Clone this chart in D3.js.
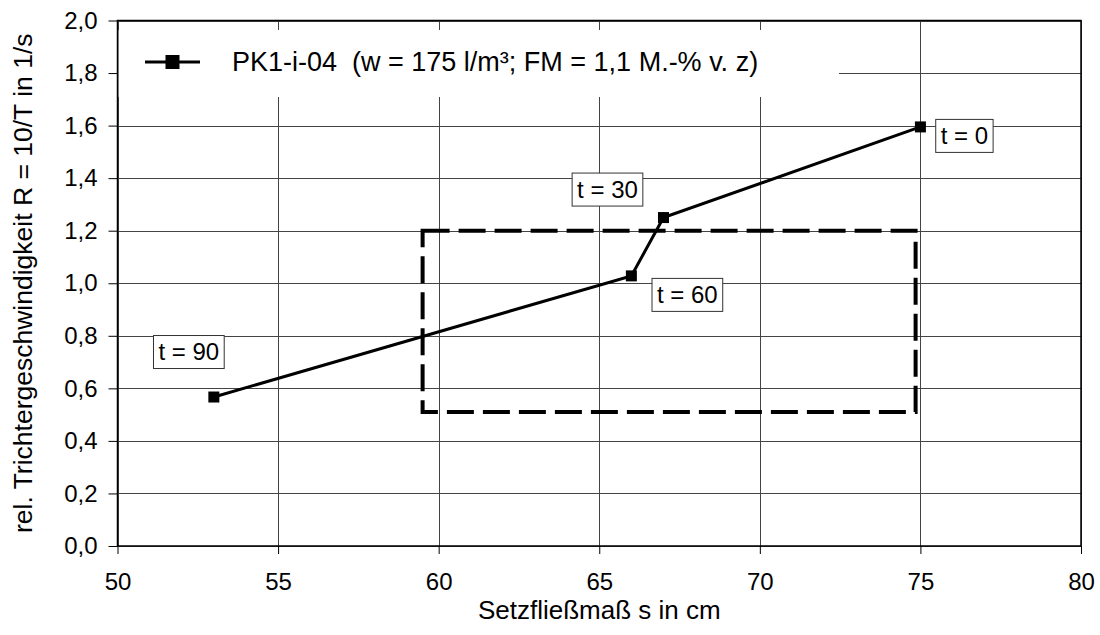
<!DOCTYPE html>
<html>
<head>
<meta charset="utf-8">
<script src="https://cdn.jsdelivr.net/npm/d3@7"></script>
<style>
  html, body { margin: 0; padding: 0; background: #fff; }
  svg { display: block; font-family: "Liberation Sans", Arial, sans-serif; }
</style>
</head>
<body>
<svg id="chart" width="1100" height="635"></svg>
<script>
// ---- data ----
const setzfliessmass = [75, 67, 66, 53];          // s in cm
const trichterR      = [1.595, 1.25, 1.028, 0.567]; // R = 10/T in 1/s
const timeLabels     = ["t = 0", "t = 30", "t = 60", "t = 90"];
const seriesName     = "PK1-i-04  (w = 175 l/m³; FM = 1,1 M.-% v. z)";
const xTicks = [50, 55, 60, 65, 70, 75, 80];
const yTicks = [0, 0.2, 0.4, 0.6, 0.8, 1.0, 1.2, 1.4, 1.6, 1.8, 2.0];
const targetBoxX = [59.5, 74.85];   // dashed target range, s in cm
const targetBoxY = [0.51, 1.2];     // dashed target range, R in 1/s
const xTitle = "Setzfließmaß s in cm";
const yTitle = "rel. Trichtergeschwindigkeit R = 10/T in 1/s";

// ---- layout (pixel offsets of the data-label boxes from their points) ----
const labelOffsets = [[44, 9], [-56, -28], [56, 19], [-25, -45]];

const svg = d3.select("#chart");
const plot = { left: 117.5, right: 1081, top: 20.5, bottom: 546 };
const x = d3.scaleLinear().domain([50, 80]).range([plot.left, plot.right]);
const y = d3.scaleLinear().domain([0, 2]).range([plot.bottom, plot.top]);
const FS = 24;

// gridlines
const grid = svg.append("g").attr("stroke", "#444").attr("stroke-width", 1);
grid.selectAll("line.v").data(xTicks).join("line")
  .attr("x1", d => Math.round(x(d)) + 0.5).attr("x2", d => Math.round(x(d)) + 0.5)
  .attr("y1", plot.top).attr("y2", plot.bottom);
grid.selectAll("line.h").data(yTicks).join("line")
  .attr("x1", plot.left).attr("x2", plot.right)
  .attr("y1", d => Math.round(y(d)) + 0.5).attr("y2", d => Math.round(y(d)) + 0.5);

// legend background (covers gridlines)
svg.append("rect").attr("x", plot.left + 1).attr("y", 30)
  .attr("width", 839 - plot.left - 1).attr("height", 67).attr("fill", "#fff");

// axes
const fmt = d => d.toFixed(1).replace(".", ",");
const yAxis = svg.append("g").attr("transform", `translate(${plot.left},0)`)
  .call(d3.axisLeft(y).tickValues(yTicks).tickSize(9).tickPadding(11).tickFormat(fmt));
const xAxis = svg.append("g").attr("transform", `translate(0,${plot.bottom})`)
  .call(d3.axisBottom(x).tickValues(xTicks).tickSize(8).tickPadding(19).tickFormat(d3.format("d")));
[yAxis, xAxis].forEach(a => {
  a.select(".domain").remove();
  a.selectAll(".tick line").attr("stroke", "#000");
  a.selectAll("text").attr("font-size", FS).attr("fill", "#000")
    .attr("font-family", "'Liberation Sans', Arial, sans-serif");
});

// plot border
svg.append("rect").attr("x", plot.left).attr("y", plot.top)
  .attr("width", plot.right - plot.left).attr("height", plot.bottom - plot.top)
  .attr("fill", "none").attr("stroke", "#000").attr("stroke-width", 1.5);

// dashed target box
svg.append("rect")
  .attr("x", x(targetBoxX[0])).attr("y", y(targetBoxY[1]))
  .attr("width", x(targetBoxX[1]) - x(targetBoxX[0]))
  .attr("height", y(targetBoxY[0]) - y(targetBoxY[1]))
  .attr("fill", "none").attr("stroke", "#000").attr("stroke-width", 4)
  .attr("stroke-dasharray", "27,9");

// data
const data = setzfliessmass.map((s, i) => ({ s, r: trichterR[i], label: timeLabels[i], off: labelOffsets[i] }));
svg.append("path").datum(data)
  .attr("d", d3.line().x(d => x(d.s)).y(d => y(d.r)))
  .attr("fill", "none").attr("stroke", "#000").attr("stroke-width", 3);
const M = 11;
svg.selectAll("rect.marker").data(data).join("rect").attr("class", "marker")
  .attr("x", d => x(d.s) - M / 2).attr("y", d => y(d.r) - M / 2)
  .attr("width", M).attr("height", M).attr("fill", "#000");

// data labels
const lab = svg.selectAll("g.lab").data(data).join("g").attr("class", "lab")
  .attr("transform", d => `translate(${x(d.s) + d.off[0]},${y(d.r) + d.off[1]})`);
lab.each(function(d) {
  const g = d3.select(this);
  const r = g.append("rect").attr("fill", "#fff").attr("stroke", "#333").attr("stroke-width", 1);
  const t = g.append("text").text(d.label).attr("font-size", FS)
    .attr("text-anchor", "middle").attr("dy", "0.35em");
  const bb = t.node().getBBox();
  const w = bb.width + 10, h = 33;
  r.attr("x", -w / 2).attr("y", -h / 2).attr("width", w).attr("height", h);
});

// legend
const lg = svg.append("g").attr("transform", "translate(0,62)");
lg.append("line").attr("x1", 145).attr("x2", 200).attr("stroke", "#000").attr("stroke-width", 3);
lg.append("rect").attr("x", 172.5 - 7).attr("y", -7).attr("width", 14).attr("height", 14).attr("fill", "#000");
lg.append("text").attr("x", 232).attr("dy", "0.35em").attr("font-size", 27)
  .style("white-space", "pre").attr("xml:space", "preserve").text(seriesName);

// axis titles
svg.append("text").attr("x", (plot.left + plot.right) / 2).attr("y", 610)
  .attr("text-anchor", "middle").attr("dy", "0.35em").attr("font-size", 26).text(xTitle);
svg.append("text").attr("transform", `translate(23,${(plot.top + plot.bottom) / 2}) rotate(-90)`)
  .attr("text-anchor", "middle").attr("dy", "0.35em").attr("font-size", 26.5).text(yTitle);
</script>
</body>
</html>
